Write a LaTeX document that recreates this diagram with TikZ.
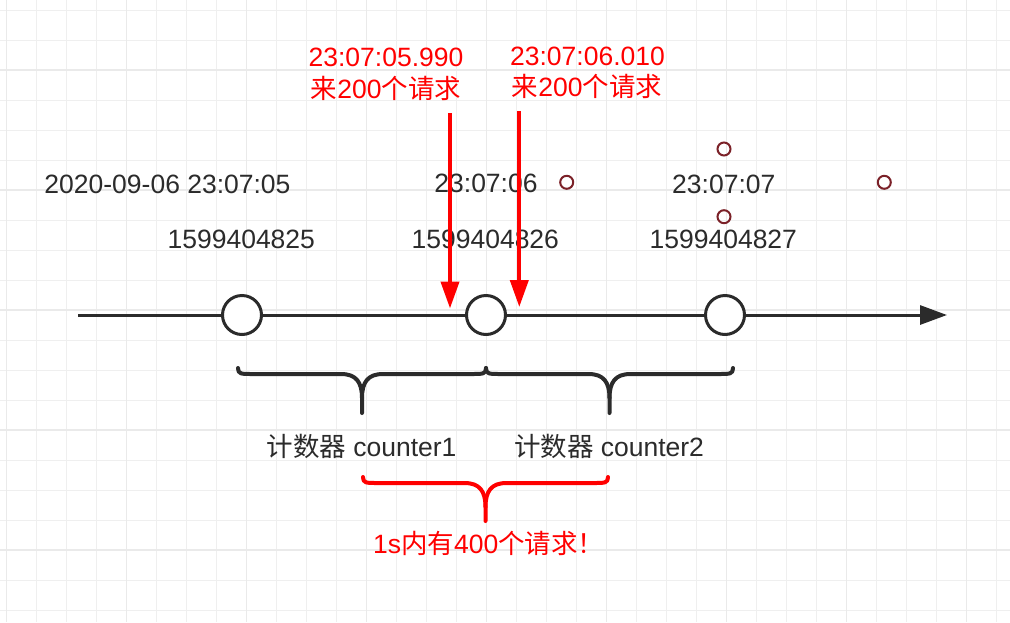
\documentclass[tikz,border=0pt]{standalone}
\usepackage{fontspec}
\setmainfont{Liberation Sans}
\newfontfamily\cjk{Noto Sans CJK SC}
\usetikzlibrary{arrows.meta}
\definecolor{ink}{HTML}{2B2B2B}
\definecolor{redc}{HTML}{FF0000}
\definecolor{handle}{HTML}{7B2128}
\definecolor{gridminor}{HTML}{EFEFEF}
\definecolor{gridmajor}{HTML}{EAEAEA}
\newcommand{\drawbrace}[5]{%
  \pgfmathsetmacro\bracemid{(#2+#3)/2}%
  \draw[#1] (#2,#4-6) .. controls (#2,#4) and (#2+3,#4) .. (#2+14,#4) -- (\bracemid-21,#4) .. controls (\bracemid-6,#4) and (\bracemid,#4+8) .. (\bracemid,#4+24) -- (\bracemid,#5);
  \draw[#1] (#3,#4-6) .. controls (#3,#4) and (#3-3,#4) .. (#3-14,#4) -- (\bracemid+21,#4) .. controls (\bracemid+6,#4) and (\bracemid,#4+8) .. (\bracemid,#4+24);
}
\begin{document}
\begin{tikzpicture}[x=1pt,y=-1pt,
  lbl/.style={font=\fontsize{26.5}{30}\selectfont, text=ink, inner sep=0pt, anchor=base},
  rlbl/.style={lbl, text=redc},
  tick/.style={circle, draw=ink, fill=white, line width=3pt, minimum size=39pt, inner sep=0pt},
  handlept/.style={circle, draw=handle, line width=2pt, minimum size=13pt, inner sep=0pt},
  brace/.style={draw=ink, line width=4pt, line cap=round, line join=round},
  rbrace/.style={brace, draw=redc},
  axis/.style={draw=ink, line width=3pt, -{Triangle[length=27pt,width=19pt]}},
  reqarrow/.style={draw=redc, line width=4pt, -{Triangle[length=27pt,width=18pt]}},
  minorline/.style={draw=gridminor, line width=1pt},
  majorline/.style={draw=gridmajor, line width=1.2pt},
]
\useasboundingbox (0,0) rectangle (1010,622);
\fill[white] (0,0) rectangle (1010,622);
\begin{scope}
\clip (0,0) rectangle (1010,622);
\foreach \i in {0,...,33} \draw[minorline] ({6.7+30*\i},0) -- ({6.7+30*\i},622);
\foreach \i in {0,...,20} \draw[minorline] (0,{10+30*\i}) -- (1010,{10+30*\i});
\foreach \i in {0,...,8} \draw[majorline] ({6.7+120*\i},0) -- ({6.7+120*\i},622);
\foreach \i in {0,...,5} \draw[majorline] (0,{-50+120*\i}) -- (1010,{-50+120*\i});
\end{scope}

% axis
\coordinate (a0) at (78,315);
\coordinate (a1) at (947,315);
\draw[axis] (a0) -- (a1);
\node[tick] (c1) at (242,315) {};
\node[tick] (c2) at (486,315) {};
\node[tick] (c3) at (725,315) {};

% black labels
\node[lbl] (d0) at (167.5,193.3) {2020-09-06 23:07:05};
\node[lbl] (d1) at (486,192.7) {23:07:06};
\node[lbl] (d2) at (723.8,193.3) {23:07:07};
\node[lbl] (u0) at (241.3,248.3) {1599404825};
\node[lbl] (u1) at (485.3,248.3) {1599404826};
\node[lbl] (u2) at (723.3,248) {1599404827};

% red labels
\node[rlbl] (t1a) at (386,66.5) {23:07:05.990};
\node[rlbl] (t1b) at (386,98) {{\cjk 来}200{\cjk 个请求}};
\node[rlbl] (t2a) at (587.5,65) {23:07:06.010};
\node[rlbl] (t2b) at (587,96.5) {{\cjk 来}200{\cjk 个请求}};

% request arrows
\coordinate (r1s) at (450,113);
\coordinate (r1e) at (450,308.5);
\coordinate (r2s) at (519.3,111);
\coordinate (r2e) at (519.3,307);
\draw[reqarrow] (r1s) -- (r1e);
\draw[reqarrow] (r2s) -- (r2e);

% braces
\drawbrace{brace}{238}{486}{374}{413}
\drawbrace{brace}{486}{733}{374}{413}
\drawbrace{rbrace}{363}{608}{483}{521}

\node[lbl] (k1) at (361.5,456) {{\cjk 计数器} counter1};
\node[lbl] (k2) at (609,456) {{\cjk 计数器} counter2};
\node[rlbl, anchor=base west] (sum) at (373,553) {1s{\cjk 内有}400{\cjk 个请求！}};

% selection handles
\node[handlept] (h1) at (566.7,182.3) {};
\node[handlept] (h2) at (724,149) {};
\node[handlept] (h3) at (724,216.7) {};
\node[handlept] (h4) at (884.3,182.3) {};
\end{tikzpicture}
\end{document}
